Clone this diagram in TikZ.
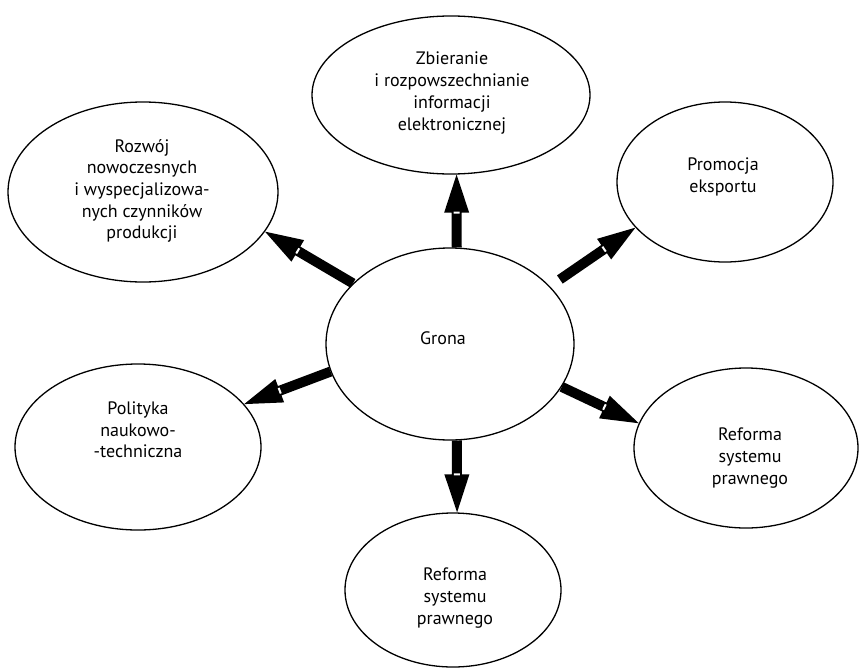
\documentclass[tikz,border=0pt]{standalone}
\usepackage{fontspec}
\setmainfont{PT Sans}
\usetikzlibrary{shapes.geometric,calc}
\tikzset{
  bubble/.style={ellipse, draw=black, line width=1.3pt, inner sep=0pt},
  lbl/.style={align=center, font=\fontsize{18}{21.7}\selectfont, inner sep=0pt},
}
\newcommand{\fatarrow}[3][0pt]{%
  \coordinate (P) at (#3);
  \coordinate (T) at ($(#2)!#1!(P)$);
  \coordinate (B) at ($(P)!38pt!(T)$);
  \fill[black] ($(T)!5pt!90:(P)$) -- ($(B)!5pt!90:(P)$) -- ($(B)!12.5pt!90:(P)$) -- (P)
     -- ($(B)!12.5pt!-90:(P)$) -- ($(B)!5pt!-90:(P)$) -- ($(T)!5pt!-90:(P)$) -- cycle;
  \draw[white, line width=2pt] ($(B)!3pt!90:(P)$) -- ($(B)!3pt!-90:(P)$);
}
\begin{document}
\begin{tikzpicture}[x=1pt,y=-1pt]
\useasboundingbox (0,0) rectangle (861,669);
\node[bubble, minimum width=278pt, minimum height=158pt] (top) at (451,95) {};
\node[bubble, minimum width=270pt, minimum height=180pt] (ul) at (143,192) {};
\node[bubble, minimum width=216pt, minimum height=160pt] (ur) at (725,182) {};
\node[bubble, minimum width=248pt, minimum height=192pt] (c) at (450,344) {};
\node[bubble, minimum width=246pt, minimum height=166pt] (ll) at (138,447) {};
\node[bubble, minimum width=224pt, minimum height=160pt] (lr) at (746,448) {};
\node[bubble, minimum width=216pt, minimum height=154pt] (bot) at (453,590) {};

\node[lbl] (topT) at (452,93) {Zbieranie\\i rozpowszechnianie\\informacji\\elektronicznej};
\node[lbl] (ulT) at (142,191) {Rozwój\\nowoczesnych\\i wyspecjalizowa-\\nych czynników\\produkcji};
\node[lbl] (urT) at (723,177) {Promocja\\eksportu};
\node[lbl] (cT) at (443,338) {Grona};
\node[lbl] (llT) at (138,430) {Polityka\\naukowo-\\-techniczna};
\node[lbl] (lrT) at (750,458) {Reforma\\systemu\\prawnego};
\node[lbl] (botT) at (455,598) {Reforma\\systemu\\prawnego};

\fatarrow{c.86}{top.-86}
\fatarrow{c.148}{ul.-18}
\fatarrow[12pt]{c.30}{ur.207}
\fatarrow{c.193}{ll.22}
\fatarrow{c.-21}{lr.167}
\fatarrow{c.-86}{bot.87}
\end{tikzpicture}
\end{document}
